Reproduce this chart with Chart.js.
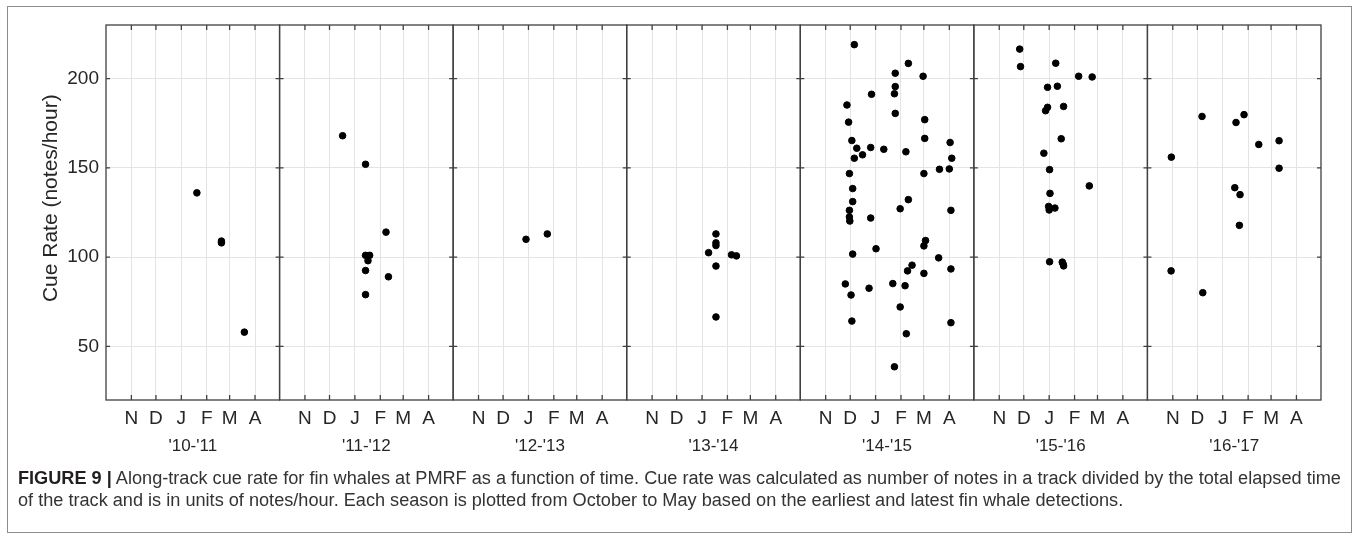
<!DOCTYPE html>
<html>
<head>
<meta charset="utf-8">
<script src="https://cdn.jsdelivr.net/npm/chart.js@4.4.1/dist/chart.umd.min.js"></script>
<style>
  body { margin: 0; background: #fff; width: 1358px; height: 538px; position: relative; overflow: hidden; }
  #frame { position: absolute; left: 7px; top: 6px; width: 1343px; height: 525px; border: 1px solid #8c8c8c; }
  #wrap { position: absolute; left: 0; top: 0; width: 1358px; height: 470px; }
  #caption { position: absolute; left: 18px; top: 467px; font-family: "Liberation Sans", Arial, sans-serif;
    font-size: 18.15px; line-height: 22px; color: #333; white-space: nowrap; }
  #caption b { color: #231f20; }
</style>
</head>
<body>
<div id="frame"></div>
<div id="wrap"><canvas id="grafico" width="1358" height="470"></canvas></div>
<div id="caption">
  <b>FIGURE 9 |</b> Along-track cue rate for fin whales at PMRF as a function of time. Cue rate was calculated as number of notes in a track divided by the total elapsed time<br>
  of the track and is in units of notes/hour. Each season is plotted from October to May based on the earliest and latest fin whale detections.
</div>
<script>
// dias contados a partir de 1 de outubro
const seasons = ["'10-'11", "'11-'12", "'12-'13", "'13-'14", "'14-'15", "'15-'16", "'16-'17"];
const monthDays = [31, 61, 92, 123, 151, 182];
const monthLabels = ['N', 'D', 'J', 'F', 'M', 'A'];
const yTicks = [50, 100, 150, 200];
const yTitulo = 'Cue Rate (notes/hour)';

const days1011 = [111, 141, 141, 169];
const rates1011 = [136, 109, 108, 58];

const days1112 = [77, 105, 130, 105, 110, 108, 105, 133, 105];
const rates1112 = [168, 152, 114, 101, 101, 98, 92.5, 89, 79];

const days1213 = [89, 115];
const rates1213 = [110, 113];

const days1314 = [109, 109, 109, 100, 128, 134, 109, 109];
const rates1314 = [113, 108, 106.5, 102.5, 101.3, 100.7, 95, 66.5];

const days1415 = [66, 132, 116, 150, 116, 115, 87, 57, 116, 59, 152, 152, 63, 183, 69, 86, 102, 76, 129, 66,
  185, 170, 182, 60, 151, 64, 64, 132, 60, 122, 184, 60, 86, 60.5, 64, 92.5, 153, 151, 169, 136.5,
  131, 184, 151, 55, 84, 113, 128, 62, 122, 63, 184, 129.5, 115];
const rates1415 = [219, 208.5, 203, 201.3, 195.5, 191.5, 191.2, 185.2, 180.5, 175.6, 177, 166.5, 165.3, 164.2, 161, 161.4, 160.4, 157.3, 159, 155.4,
  155.4, 149.2, 149.4, 146.8, 146.8, 138.4, 131.1, 132.2, 126.2, 127.1, 126.2, 122.5, 121.9, 120.2, 101.7, 104.7, 109.3, 106.3, 99.6, 95.5,
  92.3, 93.4, 90.9, 85, 82.6, 85.2, 84, 78.8, 72.1, 64.2, 63.3, 57.1, 38.6];

const days1516 = [56, 57, 100, 128, 144.5, 90, 102, 90, 87.6, 109.6, 106.7, 85.5, 92.5, 141, 93, 91.3, 92, 99, 92.5, 108, 109, 109.6];
const rates1516 = [216.5, 206.7, 208.6, 201.3, 200.9, 195.1, 195.7, 183.9, 182, 184.4, 166.3, 158.2, 149, 139.9, 135.7, 128.4, 126.4, 127.5, 97.4, 97.2, 96.2, 95.1];

const days1617 = [66.7, 118, 108.2, 136, 160.8, 29.2, 160.8, 106.7, 113.1, 112.3, 28.9, 67.6];
const rates1617 = [178.8, 179.8, 175.4, 163.1, 165.2, 156, 149.8, 138.9, 135, 117.8, 92.3, 80.1];

const seasonDays = [days1011, days1112, days1213, days1314, days1415, days1516, days1617];
const seasonRates = [rates1011, rates1112, rates1213, rates1314, rates1415, rates1516, rates1617];

const fonte = "'Liberation Sans', Arial, Helvetica, sans-serif";
const corTexto = '#262626';
const corGrade = '#e4e4e4';

// moldura de cada painel com marcas para dentro (estilo MATLAB) + titulo do eixo y
const molduraPaineis = {
  id: 'molduraPaineis',
  afterDatasetsDraw(chart) {
    const ctx = chart.ctx;
    const area = chart.chartArea;
    const y = chart.scales.y;
    ctx.save();
    ctx.strokeStyle = '#404040';
    ctx.lineWidth = 1.3;
    seasons.forEach((s, i) => {
      const x = chart.scales['x' + i];
      ctx.strokeRect(x.left, area.top, x.right - x.left, area.bottom - area.top);
      ctx.beginPath();
      x.ticks.forEach(t => {
        const px = x.getPixelForValue(t.value);
        ctx.moveTo(px, area.top); ctx.lineTo(px, area.top + 5);
        ctx.moveTo(px, area.bottom); ctx.lineTo(px, area.bottom - 5);
      });
      y.ticks.forEach(t => {
        const py = y.getPixelForValue(t.value);
        ctx.moveTo(x.left, py); ctx.lineTo(x.left + 4, py);
        ctx.moveTo(x.right, py); ctx.lineTo(x.right - 4, py);
      });
      ctx.stroke();
    });

    // o rotulo do eixo y fica um pouco acima do centro no original
    ctx.translate(51, y.getPixelForValue(133));
    ctx.rotate(-Math.PI / 2);
    ctx.fillStyle = corTexto;
    ctx.font = "21px " + fonte;
    ctx.textAlign = 'center';
    ctx.textBaseline = 'middle';
    ctx.fillText(yTitulo, 0, 0);
    ctx.restore();
  }
};

const escalas = {
  y: {
    type: 'linear',
    position: 'left',
    min: 20,
    max: 230,
    afterBuildTicks: scale => { scale.ticks = yTicks.map(v => ({ value: v })); },
    afterFit: scale => { scale.width = 106; },
    border: { display: false },
    grid: { color: corGrade, lineWidth: 1, drawTicks: false },
    ticks: { color: corTexto, padding: 7, font: { family: fonte, size: 19 } }
  }
};

seasons.forEach((s, i) => {
  escalas['x' + i] = {
    type: 'linear',
    position: 'bottom',
    stack: 'temporadas',
    stackWeight: 1,
    min: 0,
    max: 212,
    afterBuildTicks: scale => { scale.ticks = monthDays.map(v => ({ value: v })); },
    afterFit: scale => { scale.height = 70; },
    border: { display: false },
    grid: { color: corGrade, lineWidth: 1, drawTicks: false },
    ticks: {
      color: corTexto,
      autoSkip: false,
      maxRotation: 0,
      padding: 7,
      font: { family: fonte, size: 19 },
      callback: (v, idx) => monthLabels[idx]
    },
    title: {
      display: true,
      text: s,
      color: corTexto,
      padding: { top: 0, bottom: 13 },
      font: { family: fonte, size: 17 }
    }
  };
});

const datasets = seasons.map((s, i) => ({
  label: s,
  xAxisID: 'x' + i,
  yAxisID: 'y',
  data: seasonDays[i].map((d, k) => ({ x: d, y: seasonRates[i][k] })),
  backgroundColor: '#000',
  borderColor: '#000',
  pointRadius: 3.3,
  pointHoverRadius: 3.3
}));

const ctx = document.getElementById('grafico').getContext('2d');
new Chart(ctx, {
  type: 'scatter',
  data: { datasets },
  options: {
    responsive: false,
    animation: false,
    layout: { padding: { top: 25, right: 37, left: 0, bottom: 0 } },
    plugins: {
      legend: { display: false },
      tooltip: { enabled: false }
    },
    scales: escalas
  },
  plugins: [molduraPaineis]
});
</script>
</body>
</html>
